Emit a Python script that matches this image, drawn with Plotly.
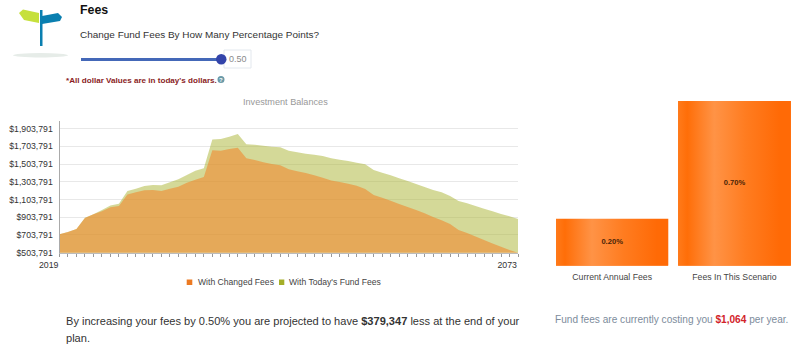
import plotly.graph_objects as go

W, H = 800, 357
FONT = "Liberation Sans"

years = list(range(2019, 2074))
changed_k = [711, 737, 771, 895, 937, 971, 1016, 1031, 1162, 1185, 1208, 1211, 1200, 1226, 1249, 1294, 1328, 1358,
             1659, 1655, 1674, 1689, 1569, 1550, 1524, 1505, 1490, 1445, 1422, 1403, 1377, 1351, 1320, 1302, 1283,
             1260, 1223, 1155, 1125, 1091, 1053, 1019, 985, 948, 906, 869, 827, 760, 726, 688, 647, 609, 571, 534, 504]
todays_k = [711, 737, 771, 899, 937, 985, 1038, 1057, 1200, 1226, 1256, 1268, 1264, 1298, 1332, 1381, 1430, 1456,
            1783, 1787, 1813, 1844, 1727, 1723, 1712, 1701, 1693, 1655, 1637, 1622, 1610, 1595, 1569, 1554, 1539,
            1520, 1501, 1437, 1407, 1377, 1343, 1313, 1279, 1245, 1211, 1185, 1144, 1087, 1061, 1031, 1001, 971, 940, 914, 883]
y_ticks = [503791, 703791, 903791, 1103791, 1303791, 1503791, 1703791, 1903791]
y_labels = ["$503,791", "$703,791", "$903,791", "$1,103,791", "$1,303,791", "$1,503,791", "$1,703,791", "$1,903,791"]
fee_categories = ["Current Annual Fees", "Fees In This Scenario"]
fee_values = [0.20, 0.70]
fee_labels = ["0.20%", "0.70%"]


def px(x):
    return x / W


def py(y):
    return 1 - y / H


fig = go.Figure()

# Area series
fig.add_trace(go.Scatter(x=years, y=[v * 1000 for v in todays_k], mode="none", fill="tozeroy",
                         name="With Today's Fund Fees", fillcolor="rgba(170,180,50,0.5)", showlegend=False,
                         xaxis="x", yaxis="y"))
fig.add_trace(go.Scatter(x=years, y=[v * 1000 for v in changed_k], mode="none", fill="tozeroy",
                         name="With Changed Fees", fillcolor="rgba(243,130,39,0.55)", showlegend=False,
                         xaxis="x", yaxis="y"))

# Fee bars
BAR_WIDTH = 0.918
fig.add_trace(go.Bar(x=[0, 1], y=fee_values, width=BAR_WIDTH, marker=dict(color="#FF7A1E", line_width=0),
                     showlegend=False, xaxis="x2", yaxis="y2"))
for i, v in enumerate(fee_values):
    fig.add_trace(go.Scatter(
        x=[i - BAR_WIDTH / 2, i + BAR_WIDTH / 2, i + BAR_WIDTH / 2, i - BAR_WIDTH / 2, i - BAR_WIDTH / 2],
        y=[0, 0, v, v, 0], mode="none", fill="toself", showlegend=False, xaxis="x2", yaxis="y2",
        fillgradient=dict(type="horizontal",
                          colorscale=[[0, "#FF7A1A"], [0.08, "#FF6E08"], [0.32, "#FF9346"],
                                      [0.6, "#FF7C20"], [0.9, "#FF6A06"], [1, "#FF6A06"]])))
fig.add_trace(go.Scatter(x=[0, 1], y=[v / 2 for v in fee_values], mode="text", text=fee_labels,
                         textposition="middle center",
                         textfont=dict(family=FONT, size=7.6, color="#4A2408", weight="bold"),
                         showlegend=False, xaxis="x2", yaxis="y2"))

tick_text = [str(y) if y in (years[0], years[-1]) else "" for y in years]

fig.update_layout(
    width=W, height=H, autosize=False,
    margin=dict(l=0, r=0, t=0, b=0),
    paper_bgcolor="white", plot_bgcolor="white",
    font=dict(family=FONT, color="#333333"),
    showlegend=False,
    xaxis=dict(domain=[px(59.5), px(518)], range=[2019, 2073], tickmode="array", tickvals=years, ticktext=tick_text,
               ticks="outside", ticklen=3, tickcolor="#999999", showgrid=False, showline=True, linecolor="#BBBBBB",
               linewidth=1, zeroline=False, tickfont=dict(size=8.8, color="#333333"), automargin=False,
               ticklabelposition="outside left", ticklabelstandoff=4, anchor="y"),
    yaxis=dict(domain=[py(252.7), py(120.7)], range=[503791, 1994000], tickmode="array", tickvals=y_ticks,
               ticktext=y_labels, showgrid=True, gridcolor="#E8E8E8", gridwidth=1, showline=True, linecolor="#AAAAAA",
               linewidth=1, zeroline=False, ticks="outside", ticklen=4, tickcolor="rgba(0,0,0,0)",
               tickfont=dict(size=8.7, color="#333333"), automargin=False, anchor="x"),
    xaxis2=dict(domain=[px(551), px(795.6)], range=[-0.5, 1.5], tickmode="array", tickvals=[0, 1],
                ticktext=fee_categories, showgrid=False, showline=False, zeroline=False, ticks="",
                tickfont=dict(size=8.7, color="#444444"), automargin=False, ticklabelstandoff=5, anchor="y2"),
    yaxis2=dict(domain=[py(265.7), py(101)], range=[0, 0.7], visible=False, automargin=False, anchor="x2"),
    bargap=0,
)

texts = [
    (80, 10, "<b>Fees</b>", 12.4, "#111111"),
    (80, 34, "Change Fund Fees By How Many Percentage Points?", 9.96, "#333333"),
    (66, 80, "<b>*All dollar Values are in today's dollars.</b>", 8.1, "#8A1C24"),
    (66, 320.7, "By increasing your fees by 0.50% you are projected to have <b>$379,347</b> less at the end of your", 11.07, "#333333"),
    (66, 338, "plan.", 11.07, "#333333"),
    (555, 319, "Fund fees are currently costing you <b><span style='color:#D2232A'>$1,064</span></b> per year.", 10.1, "#7D8C9C"),
    (228.5, 59.5, "0.50", 9, "#8A8A8A"),
    (197.7, 282.3, "With Changed Fees", 8.6, "#444444"),
    (289, 282.3, "With Today's Fund Fees", 8.6, "#444444"),
]
for x, y, t, s, c in texts:
    fig.add_annotation(xref="paper", yref="paper", x=px(x), y=py(y), text=t, showarrow=False, xanchor="left",
                       yanchor="middle", align="left", xshift=-2, font=dict(size=s, color=c, family=FONT))
fig.add_annotation(xref="paper", yref="paper", x=px(285.5), y=py(102), text="Investment Balances", showarrow=False,
                   xanchor="center", yanchor="middle", font=dict(size=9.15, color="#999999", family=FONT))
fig.add_annotation(xref="paper", yref="paper", x=px(221), y=py(79.5), text="<b>?</b>", showarrow=False,
                   xanchor="center", yanchor="middle", font=dict(size=6, color="white", family=FONT))


def poly(points, color):
    path = "M " + " L ".join(f"{px(a):.5f},{py(b):.5f}" for a, b in points) + " Z"
    return dict(type="path", xref="paper", yref="paper", path=path, fillcolor=color, line_width=0, layer="below")


def box(x0, y0, x1, y1, **kw):
    return dict(type="rect", xref="paper", yref="paper", x0=px(x0), x1=px(x1), y0=py(y0), y1=py(y1), **kw)


def oval(x0, y0, x1, y1, **kw):
    return dict(type="circle", xref="paper", yref="paper", x0=px(x0), x1=px(x1), y0=py(y0), y1=py(y1), **kw)


fig.update_layout(shapes=[
    oval(13, 53, 68, 57.5, fillcolor="#E6ECE8", line_width=0),
    poly([(19, 13), (23, 9.5), (39, 13), (39, 23), (24, 20)], "#C6E03C"),
    poly([(42, 16), (58, 13), (62, 17), (60, 21), (42, 24)], "#0A7FB0"),
    box(40, 10, 42.5, 46, fillcolor="#0A7FB0", line_width=0),
    box(81, 58, 221, 61, fillcolor="#4468B8", line_width=0),
    box(224, 50, 251, 68, fillcolor="white", line=dict(color="#E3E8EE", width=1)),
    oval(216, 54, 226.5, 64.5, fillcolor="#3344AA", line_width=0),
    oval(217.5, 76, 224.5, 83, fillcolor="#6A9AA8", line_width=0),
    box(186.7, 279.5, 192.3, 285, fillcolor="#EC7A22", line_width=0),
    box(279, 279.5, 284.3, 285, fillcolor="#A4AE28", line_width=0),
])

fig.write_html("out.html", config={"displayModeBar": False, "staticPlot": True},
               post_script="document.body.style.margin='0';document.documentElement.style.overflow='hidden';")
